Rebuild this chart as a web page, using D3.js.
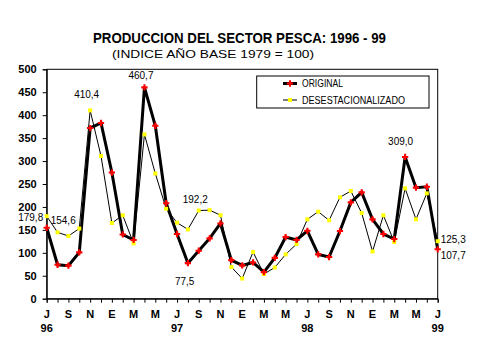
<!DOCTYPE html>
<html><head><meta charset="utf-8">
<script src="https://cdn.jsdelivr.net/npm/d3@7"></script>
<style>body{margin:0;background:#fff}svg{display:block}text{font-family:"Liberation Sans",Arial,sans-serif}</style>
</head><body>
<svg id="c" width="479" height="359"></svg>
<script>
const monthLabels = ["E","F","M","A","M","J","J","A","S","O","N","D"];
const yearLabels = ["96","97","98","99"];
const original = [154.6,74,72,101,372,383,275,140,128,460.7,377,208,141,77.5,104.6,131.5,164,84,72.7,79,58,89,134.4,128,148,96.6,90.8,147.5,210,231.8,173,141,130,309.0,242,244,107.7];
const desest = [179.8,144.6,136.6,153,410.4,311,165,181.7,120.6,358,273,196,165.7,151,192.2,193,182,69,44,101.7,53.8,68,96.6,119,173,189.7,170.8,221,234.7,186.8,103,181.7,123.5,240.5,173,229.6,125.3];
const yTicks = [0,50,100,150,200,250,300,350,400,450,500];
const seriesNames = ["ORIGINAL","DESESTACIONALIZADO"];
const annotations = [
  {s:"d", i:0, text:"179,8", dx:-28.5, dy:5},
  {s:"o", i:0, text:"154,6", dx:4, dy:-4},
  {s:"d", i:4, text:"410,4", dx:-16, dy:-12},
  {s:"o", i:9, text:"460,7", dx:-16, dy:-8},
  {s:"d", i:14, text:"192,2", dx:-16, dy:-8},
  {s:"o", i:13, text:"77,5", dx:-13, dy:22},
  {s:"o", i:33, text:"309,0", dx:-17, dy:-12},
  {s:"d", i:36, text:"125,3", dx:3, dy:2},
  {s:"o", i:36, text:"107,7", dx:3, dy:10}
];

const svg = d3.select("#c");
const L=46.7, R=437.7, T=69.3, B=298.7;
const x = d3.scaleLinear().domain([0,original.length-1]).range([L,R]);
const y = d3.scaleLinear().domain([0,500]).range([B,T]);

// frame
svg.append("rect").attr("x",L).attr("y",T).attr("width",R-L).attr("height",B-T)
  .attr("fill","none").attr("stroke","#000").attr("stroke-width",1);

// y axis
const ya = svg.append("g").attr("transform",`translate(${L},0)`)
  .call(d3.axisLeft(y).tickValues(yTicks).tickSize(4).tickPadding(6));
ya.select(".domain").attr("stroke","#000");
ya.selectAll("text").attr("font-size",11).attr("font-weight","bold").attr("fill","#000");

// x axis
const idx = d3.range(original.length);
const xa = svg.append("g").attr("transform",`translate(0,${B})`)
  .call(d3.axisBottom(x).tickValues(idx).tickSize(4).tickFormat(""));
xa.select(".domain").attr("stroke","#000");
const xl = svg.append("g");
idx.filter(i=>i%2===0).forEach(i=>{
  xl.append("text").attr("x",x(i)).attr("y",318).attr("text-anchor","middle")
    .attr("font-size",11).attr("font-weight","bold").text(monthLabels[(i+6)%12]);
});
yearLabels.forEach((yr,k)=>{
  xl.append("text").attr("x",x(k*12)).attr("y",332).attr("text-anchor","middle")
    .attr("font-size",11).attr("font-weight","bold").text(yr);
});

// lines
const line = d3.line().x((d,i)=>x(i)).y(d=>y(d));
svg.append("path").datum(desest).attr("d",line).attr("fill","none").attr("stroke","#000").attr("stroke-width",1);
svg.append("path").datum(original).attr("d",line).attr("fill","none").attr("stroke","#000").attr("stroke-width",3);

svg.append("g").selectAll("rect").data(desest).join("rect")
  .attr("x",(d,i)=>x(i)-2).attr("y",d=>y(d)-2).attr("width",4).attr("height",4).attr("fill","#ffff00");
const cross = d3.symbol().type(d3.symbolCross).size(22);
svg.append("g").selectAll("path").data(original).join("path")
  .attr("d",cross).attr("transform",(d,i)=>`translate(${x(i)},${y(d)})`).attr("fill","#ff0000");

// annotations
annotations.forEach(a=>{
  const v = a.s==="o"?original[a.i]:desest[a.i];
  svg.append("text").attr("x",x(a.i)+a.dx).attr("y",y(v)+a.dy)
    .attr("font-size",10).attr("fill","#000").text(a.text);
});

// legend
const lg = svg.append("g");
lg.append("rect").attr("x",256.7).attr("y",76).attr("width",172.3).attr("height",32)
  .attr("fill","#fff").attr("stroke","#000").attr("stroke-width",1);
lg.append("line").attr("x1",283).attr("x2",297).attr("y1",83.5).attr("y2",83.5).attr("stroke","#000").attr("stroke-width",3);
lg.append("path").attr("d",cross).attr("transform","translate(290,83.5)").attr("fill","#ff0000");
lg.append("line").attr("x1",283).attr("x2",297).attr("y1",100).attr("y2",100).attr("stroke","#000").attr("stroke-width",1);
lg.append("rect").attr("x",288).attr("y",98).attr("width",4).attr("height",4).attr("fill","#ffff00");
const lw = [41,103];
seriesNames.forEach((n,k)=>{
  lg.append("text").attr("x",302).attr("y",87+k*16.5).attr("font-size",10)
    .attr("textLength",lw[k]).attr("lengthAdjust","spacingAndGlyphs").text(n);
});

// titles
svg.append("text").attr("x",93).attr("y",43)
  .attr("font-size",14).attr("font-weight","bold")
  .attr("textLength",293).attr("lengthAdjust","spacingAndGlyphs")
  .text("PRODUCCION DEL SECTOR PESCA: 1996 - 99");
svg.append("text").attr("x",112).attr("y",58)
  .attr("font-size",11).attr("textLength",202).attr("lengthAdjust","spacingAndGlyphs")
  .text("(INDICE AÑO BASE 1979 = 100)");
</script>
</body></html>
